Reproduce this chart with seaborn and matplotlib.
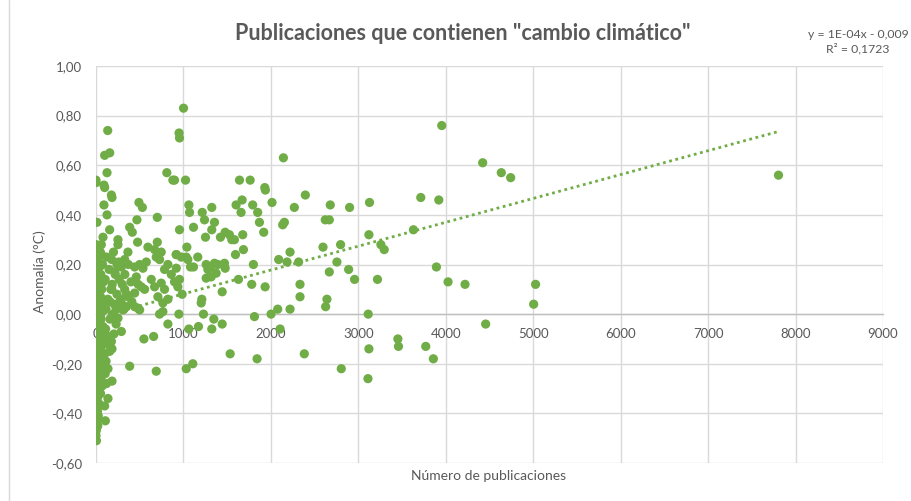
import matplotlib
matplotlib.use("Agg")
import matplotlib.pyplot as plt
from matplotlib.ticker import FuncFormatter
import seaborn as sns
import pandas as pd

# ---------------- data ----------------
# dense cluster near x = 0
cluster_x = [2, 8, 5, 1, 10, 3, 7, 0, 12, 4, 9, 1, 6, 11, 2, 8, 3, 10, 5, 1, 7, 3, 9, 2, 6, 0,
             30, 22, 41, 28, 35, 20, 44, 26, 38, 23, 33, 40, 25, 36, 21, 30, 42, 27, 34, 24, 31, 26, 20,
             60, 75, 55, 85, 66, 52, 90, 71, 58, 80, 63, 86, 54, 70, 62, 77, 57, 68, 52,
             120, 150, 105, 170, 135, 115, 160, 110, 140, 125, 100, 115, 105, 120,
             200, 260, 220, 185, 240, 210, 195, 230, 205,
             180, 215, 265, 300, 240, 330, 370, 400, 280, 350, 410, 180, 160, 230]
cluster_y = [0.28, 0.24, 0.20, 0.17, 0.14, 0.11, 0.08, 0.05, 0.02, -0.01, -0.04, -0.07, -0.10,
             -0.13, -0.16, -0.19, -0.22, -0.25, -0.28, -0.31, -0.34, -0.37, -0.40, -0.43, -0.46, -0.49,
             0.26, 0.22, 0.19, 0.15, 0.12, 0.09, 0.06, 0.03, 0.00, -0.03, -0.06, -0.09, -0.12, -0.15,
             -0.18, -0.21, -0.24, -0.27, -0.30, -0.33, -0.36, -0.41, -0.45,
             0.24, 0.20, 0.16, 0.13, 0.10, 0.07, 0.04, 0.01, -0.02, -0.05, -0.08, -0.11, -0.14, -0.17,
             -0.20, -0.23, -0.26, -0.29, -0.32,
             0.23, 0.18, 0.14, 0.10, 0.06, 0.02, -0.02, -0.06, -0.09, -0.12, -0.16, -0.19, -0.24, -0.28,
             0.25, 0.21, 0.16, 0.12, 0.08, 0.04, 0.00, -0.04, -0.08,
             0.22, 0.17, 0.14, 0.12, 0.20, 0.16, 0.20, 0.13, 0.06, 0.08, 0.05, 0.10, 0.05, 0.02]

# overlapping points hidden inside the solid column at x ~ 0
column_x = [3, 14, 7, 20, 1, 11, 17, 5, 9, 23, 0, 12, 6, 18, 2, 15, 8, 21, 4, 10,
            13, 1, 19, 6, 24, 3, 16, 9, 0, 12, 22, 5, 14, 7, 18, 2, 11, 20, 4, 8,
            15, 0, 10, 17, 6, 23, 3, 13, 9, 19, 1, 16, 5, 21, 7, 12, 2, 18, 10, 14,
            4, 22, 8, 0, 15, 6, 11, 19, 3, 13, 9, 1, 17, 5, 20, 7, 12, 2, 16, 10]
column_y = [-0.47, -0.45, -0.44, -0.42, -0.41, -0.40, -0.39, -0.38, -0.37, -0.36,
            -0.35, -0.34, -0.33, -0.32, -0.31, -0.30, -0.30, -0.29, -0.28, -0.27,
            -0.27, -0.26, -0.25, -0.25, -0.24, -0.23, -0.23, -0.22, -0.22, -0.21,
            -0.20, -0.20, -0.19, -0.19, -0.18, -0.18, -0.17, -0.17, -0.16, -0.16,
            -0.15, -0.15, -0.14, -0.14, -0.13, -0.13, -0.12, -0.12, -0.11, -0.11,
            -0.10, -0.10, -0.09, -0.09, -0.08, -0.08, -0.07, -0.06, -0.05, -0.04,
            -0.03, -0.02, -0.01, 0.00, 0.01, 0.02, 0.03, 0.04, 0.06, 0.08,
            -0.28, -0.24, -0.21, -0.18, -0.15, -0.33, -0.26, -0.19, -0.12, -0.43]

# points between 0 and 1000 publications
low_x = [134, 99, 157, 126, 0, 0, 91, 99, 176, 183, 91, 126, 11, 156, 80, 61, 50, 24, 251, 251,
         491, 530, 385, 415, 468, 701, 810, 879, 476, 594, 701, 365, 670, 746, 689, 727, 975,
         499, 575, 537, 822, 784, 918, 861, 442, 461, 328, 290, 482, 518, 442, 556, 632, 670,
         746, 784, 708, 822, 765, 898, 936, 328, 365, 290, 347, 442, 499, 727, 765, 308, 822,
         320, 480, 251, 290, 176, 548, 659, 385, 689, 156, 137, 183, 137, 99, 107, 5, 183]
low_y = [0.74, 0.64, 0.65, 0.57, 0.54, 0.53, 0.52, 0.51, 0.48, 0.47, 0.44, 0.40, 0.37, 0.34,
         0.31, 0.28, 0.25, 0.245, 0.30, 0.28, 0.45, 0.43, 0.35, 0.33, 0.38, 0.39, 0.57, 0.54,
         0.29, 0.27, 0.29, 0.25, 0.26, 0.25, 0.23, 0.22, 0.23, 0.20, 0.21, 0.185, 0.20, 0.18,
         0.24, 0.16, 0.19, 0.15, 0.22, 0.19, 0.12, 0.11, 0.085, 0.10, 0.14, 0.11, 0.125, 0.10,
         0.07, 0.06, 0.045, 0.13, 0.11, 0.10, 0.07, 0.045, 0.03, 0.03, 0.017, 0.0, 0.01, 0.017,
         -0.04, 0.02, 0.024, -0.016, -0.07, -0.11, -0.10, -0.09, -0.21, -0.23, -0.15, -0.22,
         -0.27, -0.34, -0.37, -0.43, -0.51, -0.14]

# points between 1000 and 2000 publications
mid_x = [1001, 950, 955, 898, 1024, 1641, 1763, 1930, 1937, 1062, 1070, 1215, 1241, 1324, 1602,
         1671, 1792, 1659, 1849, 1869, 1918, 955, 1115, 1355, 1324, 1252, 1423, 1477, 1526, 1553,
         1583, 1678, 1686, 1595, 1039, 918, 1032, 1050, 1164, 1081, 1115, 918, 955, 1260, 1317,
         1355, 1393, 1469, 1477, 1279, 1317, 1374, 1260, 1629, 1800, 1781, 1934, 1443, 985, 1210,
         1203, 948, 1229, 1347, 1324, 1443, 1172, 1812, 1062, 1534, 1842, 1107, 1032]
mid_y = [0.83, 0.73, 0.71, 0.54, 0.54, 0.54, 0.54, 0.51, 0.50, 0.44, 0.41, 0.41, 0.38, 0.43,
         0.44, 0.46, 0.44, 0.41, 0.41, 0.37, 0.33, 0.34, 0.35, 0.37, 0.34, 0.31, 0.31, 0.33, 0.32,
         0.30, 0.30, 0.32, 0.26, 0.24, 0.27, 0.24, 0.23, 0.22, 0.23, 0.19, 0.19, 0.185, 0.14,
         0.20, 0.19, 0.205, 0.20, 0.205, 0.185, 0.18, 0.15, 0.165, 0.145, 0.14, 0.20, 0.12,
         0.11, 0.09, 0.08, 0.06, 0.045, 0.0, 0.0, -0.02, -0.06, -0.04, -0.05, -0.01, -0.06,
         -0.16, -0.18, -0.20, -0.22]

# points above 2000 publications
high_x = [2143, 2013, 2394, 2268, 2679, 2900, 3128, 2135, 2154, 2622, 2668, 3121, 2596, 2797,
          2219, 2089, 2185, 2317, 2755, 2668, 2889, 2957, 3219, 2333, 2333, 2641, 2626, 2078,
          2219, 2002, 3113, 2105, 3121, 2382, 2805, 3110,
          7805, 5027, 5005, 4742, 4635, 4422, 3954, 3714, 3920, 3630, 3258, 3296, 3893, 4026,
          4220, 4456, 3452, 3459, 3771, 3858]
high_y = [0.63, 0.45, 0.48, 0.43, 0.44, 0.43, 0.45, 0.36, 0.37, 0.38, 0.38, 0.32, 0.27, 0.28,
          0.25, 0.22, 0.21, 0.21, 0.21, 0.17, 0.18, 0.14, 0.14, 0.12, 0.07, 0.06, 0.03, 0.02,
          0.02, 0.00, 0.00, -0.06, -0.14, -0.16, -0.22, -0.26,
          0.56, 0.12, 0.04, 0.55, 0.57, 0.61, 0.76, 0.47, 0.46, 0.34, 0.28, 0.26, 0.19, 0.13,
          0.12, -0.04, -0.10, -0.13, -0.13, -0.18]

x_ticks = [0, 1000, 2000, 3000, 4000, 5000, 6000, 7000, 8000, 9000]
y_ticks = [-0.6, -0.4, -0.2, 0.0, 0.2, 0.4, 0.6, 0.8, 1.0]

title = 'Publicaciones que contienen "cambio climático"'
x_label = "Número de publicaciones"
y_label = "Anomalía (°C)"
eq_text = "y = 1E-04x - 0,009\nR² = 0,1723"

df = pd.DataFrame({
    "pubs": cluster_x + column_x + low_x + mid_x + high_x,
    "anom": cluster_y + column_y + low_y + mid_y + high_y,
})

# ---------------- style ----------------
sns.set_theme(style="white")
plt.rcParams["font.family"] = ["Lato", "DejaVu Sans"]
GREEN = "#70AD47"
TXT = "#595959"
GRID = "#D9D9D9"

fig = plt.figure(figsize=(9.12, 5.01), dpi=100)
ax = fig.add_axes([96 / 912, 1 - 463 / 501, (883 - 96) / 912, (463 - 66) / 501])

sns.scatterplot(data=df, x="pubs", y="anom", ax=ax, color=GREEN, s=44,
                edgecolor="none", linewidth=0, zorder=3)
sns.regplot(data=df, x="pubs", y="anom", ax=ax, scatter=False, ci=None,
            color=GREEN, line_kws=dict(linestyle=(0, (1, 1.3)), linewidth=2.0, zorder=4))

ax.set_xlim(0, 9000)
ax.set_ylim(-0.6, 1.0)
ax.set_xticks(x_ticks)
ax.set_yticks(y_ticks)
ax.yaxis.set_major_formatter(FuncFormatter(lambda v, p: f"{v:.2f}".replace(".", ",")))
ax.xaxis.set_major_formatter(FuncFormatter(lambda v, p: f"{int(v)}"))

ax.grid(True, color=GRID, linewidth=1.0, zorder=0)
ax.set_axisbelow(True)
for s in ["top", "right", "left"]:
    ax.spines[s].set_visible(False)
ax.spines["bottom"].set_position(("data", 0))
ax.spines["bottom"].set_color("#BFBFBF")
ax.spines["bottom"].set_linewidth(1.0)
ax.spines["bottom"].set_zorder(1)

ax.tick_params(axis="x", length=0, pad=10, labelsize=9.5, labelcolor=TXT)
ax.tick_params(axis="y", length=0, pad=10, labelsize=9.5, labelcolor=TXT)
ax.set_xlabel("")
ax.set_ylabel("")

fig.text(463 / 912, 1 - 33 / 501, title, ha="center", va="center",
         fontsize=15.5, fontweight="bold", color=TXT)
fig.text(489 / 912, 1 - 476 / 501, x_label, ha="center", va="center",
         fontsize=10, color=TXT)
fig.text(40 / 912, 1 - 272 / 501, y_label, ha="center", va="center",
         rotation=90, fontsize=10, color=TXT)
fig.text(858 / 912, 1 - 42 / 501, eq_text, ha="center", va="center",
         fontsize=8.8, color=TXT, linespacing=1.3, multialignment="center")

# chart-area border line on the left
fig.add_artist(plt.Line2D([9 / 912, 9 / 912], [0, 1], transform=fig.transFigure,
                          color=GRID, linewidth=1.0))

fig.savefig("out.png", dpi=100, facecolor="white")
